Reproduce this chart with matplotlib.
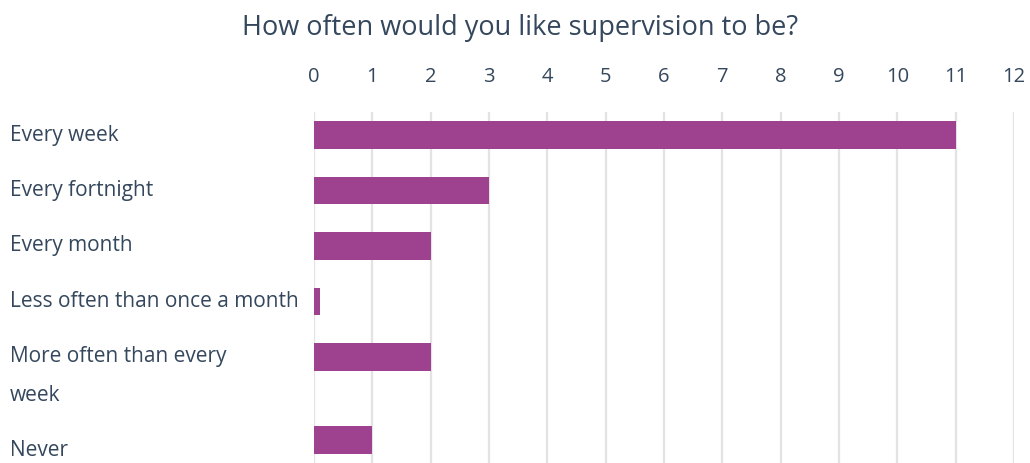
import matplotlib
matplotlib.use("Agg")
import matplotlib.pyplot as plt
import matplotlib.transforms as mtransforms

# ---- data ----
categories = [
    "Every week",
    "Every fortnight",
    "Every month",
    "Less often than once a month",
    "More often than every\nweek",
    "Never",
]
counts = [11, 3, 2, 0.1, 2, 1]
x_ticks = list(range(0, 13))
title = "How often would you like supervision to be?"

bar_color = "#9e4290"
text_color = "#34475c"
grid_color = "#e3e3e3"

plt.rcParams["font.family"] = ["Open Sans", "DejaVu Sans"]

# slot positions: wrapped labels take a bit more room
positions = []
y = 0.0
for i, cat in enumerate(categories):
    if i > 0:
        prev_lines = categories[i - 1].count("\n") + 1
        y += 1.0 if prev_lines == 1 else 1.5
    positions.append(y)

fig = plt.figure(figsize=(10.30, 4.63), dpi=100)
ax = fig.add_axes([314 / 1030, 0.0, 700 / 1030, 1 - 112 / 463])

ax.barh(positions, counts, height=0.5, color=bar_color, zorder=3)

ax.set_xlim(0, 12)
ax.set_ylim(positions[-1] + 0.42, -0.42)
ax.set_xticks(x_ticks)
ax.xaxis.tick_top()
ax.tick_params(axis="x", length=0, pad=18, labelsize=14.5, labelcolor=text_color)
ax.set_yticks([])
ax.grid(axis="x", color=grid_color, linewidth=1.6, zorder=0)
for spine in ax.spines.values():
    spine.set_visible(False)

# category labels, left aligned at figure edge
trans = mtransforms.blended_transform_factory(fig.transFigure, ax.transData)
for k, (cat, pos) in enumerate(zip(categories, positions)):
    shift = 0.2 if k == len(categories) - 1 else 0.0
    for j, line in enumerate(cat.split("\n")):
        ax.text(10 / 1030, pos + j * 0.7 + shift, line, transform=trans,
                ha="left", va="center", fontsize=15, color=text_color)

fig.text(0.505, 1 - 28 / 463, title, ha="center", va="center",
         fontsize=19.5, color=text_color)

fig.savefig("out.png", dpi=100)
